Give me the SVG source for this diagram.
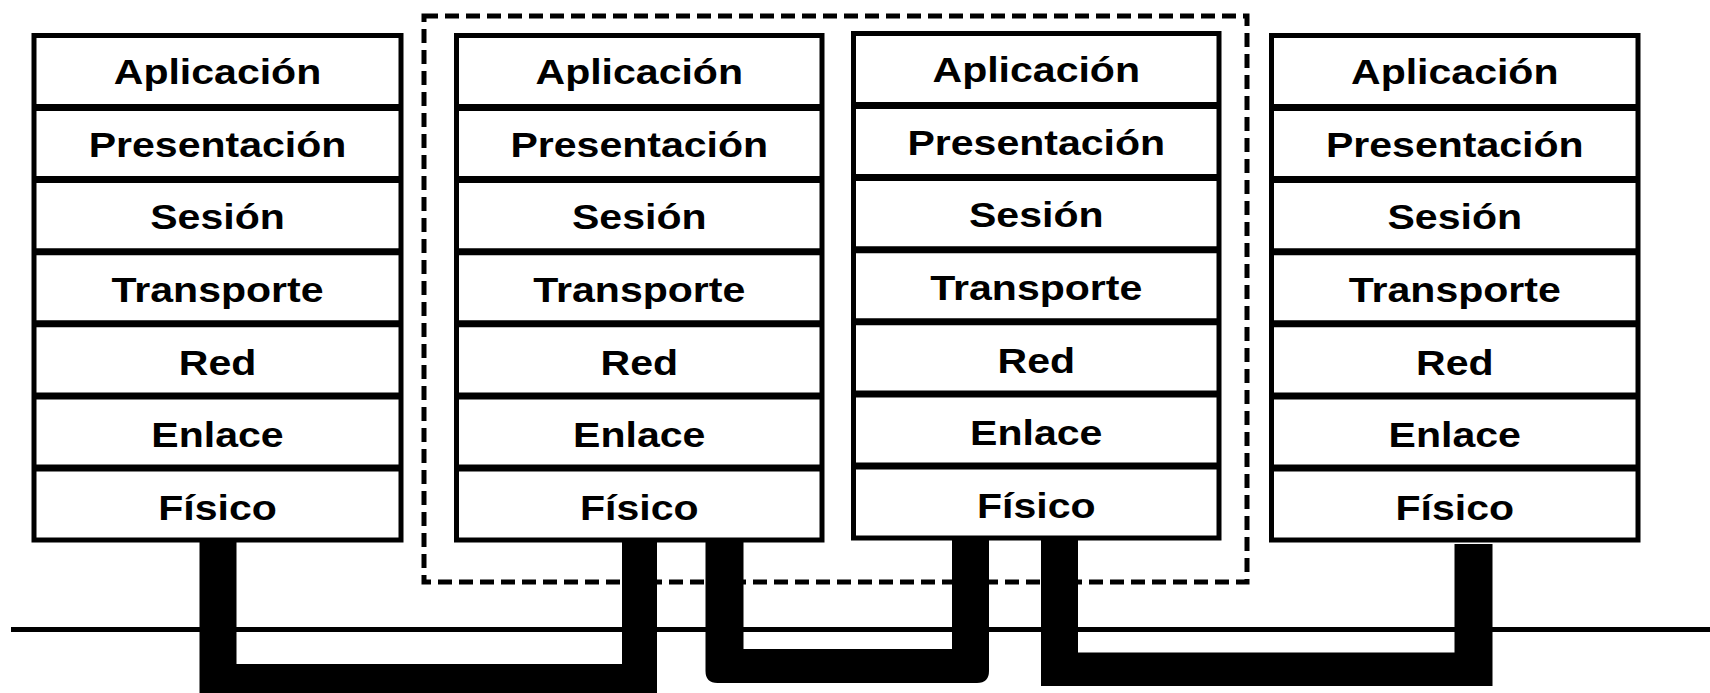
<svg xmlns="http://www.w3.org/2000/svg" width="1710" height="693" viewBox="0 0 1710 693">
<style>
.box{fill:#fff;stroke:#000;stroke-width:5}
.sep{stroke:#000;stroke-width:7}
.lbl{font-family:"Liberation Sans",Arial,sans-serif;font-weight:bold;font-size:36px;fill:#000;text-anchor:middle}
.dash{fill:none;stroke:#000;stroke-width:5;stroke-dasharray:14 7}
.wire{fill:#000}
.bus{stroke:#000;stroke-width:5}
</style>
<rect width="1710" height="693" fill="#fff"/>
<rect id="grupo" class="dash" x="424" y="16" width="823" height="566"/>
<line class="bus" x1="11" y1="629.5" x2="1710" y2="629.5"/>
<g id="stack1">
<rect class="box" x="34" y="35.5" width="367" height="504.5"/>
<line class="sep" x1="34" y1="107.6" x2="401" y2="107.6"/>
<line class="sep" x1="34" y1="179.6" x2="401" y2="179.6"/>
<line class="sep" x1="34" y1="251.7" x2="401" y2="251.7"/>
<line class="sep" x1="34" y1="323.8" x2="401" y2="323.8"/>
<line class="sep" x1="34" y1="395.9" x2="401" y2="395.9"/>
<line class="sep" x1="34" y1="467.9" x2="401" y2="467.9"/>
<text class="lbl" transform="translate(217.5 84) scale(1.14 1)">Aplicación</text>
<text class="lbl" transform="translate(217.5 156.7) scale(1.14 1)">Presentación</text>
<text class="lbl" transform="translate(217.5 229.4) scale(1.14 1)">Sesión</text>
<text class="lbl" transform="translate(217.5 302) scale(1.14 1)">Transporte</text>
<text class="lbl" transform="translate(217.5 374.7) scale(1.14 1)">Red</text>
<text class="lbl" transform="translate(217.5 447.4) scale(1.14 1)">Enlace</text>
<text class="lbl" transform="translate(217.5 520.1) scale(1.14 1)">Físico</text>
</g>
<g id="stack2">
<rect class="box" x="456.5" y="35.5" width="365.5" height="504.5"/>
<line class="sep" x1="456.5" y1="107.6" x2="822" y2="107.6"/>
<line class="sep" x1="456.5" y1="179.6" x2="822" y2="179.6"/>
<line class="sep" x1="456.5" y1="251.7" x2="822" y2="251.7"/>
<line class="sep" x1="456.5" y1="323.8" x2="822" y2="323.8"/>
<line class="sep" x1="456.5" y1="395.9" x2="822" y2="395.9"/>
<line class="sep" x1="456.5" y1="467.9" x2="822" y2="467.9"/>
<text class="lbl" transform="translate(639.25 84) scale(1.14 1)">Aplicación</text>
<text class="lbl" transform="translate(639.25 156.7) scale(1.14 1)">Presentación</text>
<text class="lbl" transform="translate(639.25 229.4) scale(1.14 1)">Sesión</text>
<text class="lbl" transform="translate(639.25 302) scale(1.14 1)">Transporte</text>
<text class="lbl" transform="translate(639.25 374.7) scale(1.14 1)">Red</text>
<text class="lbl" transform="translate(639.25 447.4) scale(1.14 1)">Enlace</text>
<text class="lbl" transform="translate(639.25 520.1) scale(1.14 1)">Físico</text>
</g>
<g id="stack3">
<rect class="box" x="853.5" y="33.5" width="365.5" height="504.5"/>
<line class="sep" x1="853.5" y1="105.6" x2="1219" y2="105.6"/>
<line class="sep" x1="853.5" y1="177.6" x2="1219" y2="177.6"/>
<line class="sep" x1="853.5" y1="249.7" x2="1219" y2="249.7"/>
<line class="sep" x1="853.5" y1="321.8" x2="1219" y2="321.8"/>
<line class="sep" x1="853.5" y1="393.9" x2="1219" y2="393.9"/>
<line class="sep" x1="853.5" y1="465.9" x2="1219" y2="465.9"/>
<text class="lbl" transform="translate(1036.25 82) scale(1.14 1)">Aplicación</text>
<text class="lbl" transform="translate(1036.25 154.7) scale(1.14 1)">Presentación</text>
<text class="lbl" transform="translate(1036.25 227.4) scale(1.14 1)">Sesión</text>
<text class="lbl" transform="translate(1036.25 300) scale(1.14 1)">Transporte</text>
<text class="lbl" transform="translate(1036.25 372.7) scale(1.14 1)">Red</text>
<text class="lbl" transform="translate(1036.25 445.4) scale(1.14 1)">Enlace</text>
<text class="lbl" transform="translate(1036.25 518.1) scale(1.14 1)">Físico</text>
</g>
<g id="stack4">
<rect class="box" x="1271.5" y="35.5" width="366.5" height="504.5"/>
<line class="sep" x1="1271.5" y1="107.6" x2="1638" y2="107.6"/>
<line class="sep" x1="1271.5" y1="179.6" x2="1638" y2="179.6"/>
<line class="sep" x1="1271.5" y1="251.7" x2="1638" y2="251.7"/>
<line class="sep" x1="1271.5" y1="323.8" x2="1638" y2="323.8"/>
<line class="sep" x1="1271.5" y1="395.9" x2="1638" y2="395.9"/>
<line class="sep" x1="1271.5" y1="467.9" x2="1638" y2="467.9"/>
<text class="lbl" transform="translate(1454.75 84) scale(1.14 1)">Aplicación</text>
<text class="lbl" transform="translate(1454.75 156.7) scale(1.14 1)">Presentación</text>
<text class="lbl" transform="translate(1454.75 229.4) scale(1.14 1)">Sesión</text>
<text class="lbl" transform="translate(1454.75 302) scale(1.14 1)">Transporte</text>
<text class="lbl" transform="translate(1454.75 374.7) scale(1.14 1)">Red</text>
<text class="lbl" transform="translate(1454.75 447.4) scale(1.14 1)">Enlace</text>
<text class="lbl" transform="translate(1454.75 520.1) scale(1.14 1)">Físico</text>
</g>
<g id="connectors">
<path class="wire" d="M199.5,540 V700 H657 V540 H622 V664 H236.5 V540 Z"/>
<path class="wire" d="M705.5,540 V671 Q705.5,683 717.5,683 H977 Q989,683 989,671 V538 H952 V649 H743.5 V540 Z"/>
<path class="wire" d="M1041,538 V686 H1492.5 V544 H1454.5 V652.5 H1078 V538 Z"/>
</g>
</svg>
